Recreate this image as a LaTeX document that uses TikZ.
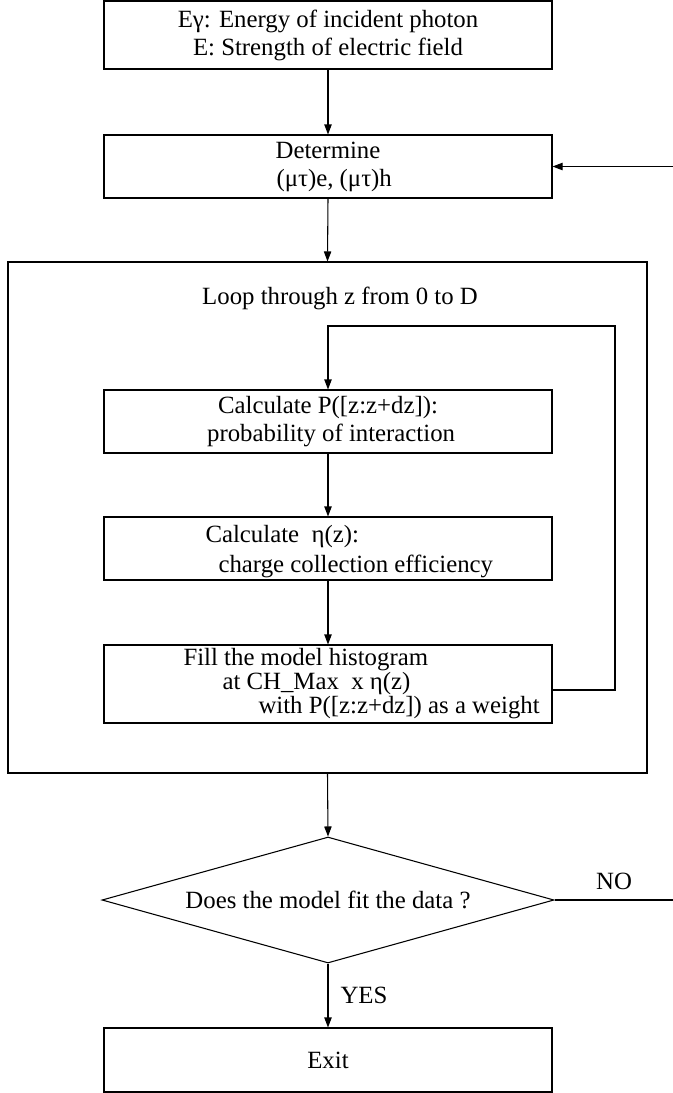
\documentclass[tikz,border=0pt]{standalone}
\usepackage{fontspec}
\setmainfont{Liberation Serif}
\usetikzlibrary{shapes.geometric,arrows.meta}

\begin{document}
\begin{tikzpicture}[x=0.75pt,y=-0.75pt,line width=0.8pt,
    every node/.style={font=\fontsize{18.6pt}{21pt}\selectfont},
    box/.style={draw,inner sep=0pt,minimum width=336pt,minimum height=47.25pt},
    txt/.style={inner sep=0pt,anchor=west},
    arr/.style={-{Triangle[length=7.5pt,width=5.5pt]}}]
\useasboundingbox (0,0) rectangle (672,1093);

\node[box,minimum height=51pt,align=center] (input) at (328,35) {Eγ: Energy of incident photon\\E: Strength of electric field};
\node[box,align=center] (det) at (328,166.5) {Determine\\ \ \ (μτ)e, (μτ)h};

% the loop over z
\node[draw,inner sep=0pt,minimum width=479.25pt,minimum height=383.25pt] (loop) at (327.5,517.5) {};
\node (looptxt) at (340,298) {Loop through z from 0 to D};
\node[box,align=center] (prob) at (328,421.5) {Calculate P([z:z+dz]):\\ \ probability of interaction};
\node[box] (eff) at (328,548.5) {};
\node[txt] (efftop) at (205,537) {Calculate\ \ η(z):};
\node[txt] (effbot) at (218,566) {charge collection efficiency};
\node[box,minimum height=58.5pt] (fill) at (328,684) {};
\node[txt] (filla) at (183,660) {Fill the model histogram};
\node[txt] (fillb) at (222,684) {at CH\_Max\ \ x η(z)};
\node[txt] (fillc) at (258,708) {with P([z:z+dz]) as a weight};
\coordinate (back) at (615,326);

\node[draw,diamond,aspect=3.587,inner sep=0pt,minimum width=339pt,minimum height=94.5pt] (test) at (328,900) {Does the model fit the data ?};
\coordinate (noturn) at (674,900);
\node (nolbl) at (614,881) {NO};
\node (yeslbl) at (364,995) {YES};
\node[box,minimum height=48pt] (exit) at (328,1060) {Exit};

\draw[arr] (input.south) -- (det.north);
\draw[arr] (det.south) -- (loop.north);
\draw[arr] (prob.south) -- (eff.north);
\draw[arr] (eff.south) -- (fill.north);
\draw[arr] ([yshift=-4.5pt]fill.east) -| (back) -| (prob.north);
\draw[arr] (loop.south) -- (test.north);
\draw[arr] (test.east) -- (noturn) |- (det.east);
\draw[arr] (test.south) -- (exit.north);
\end{tikzpicture}
\end{document}
